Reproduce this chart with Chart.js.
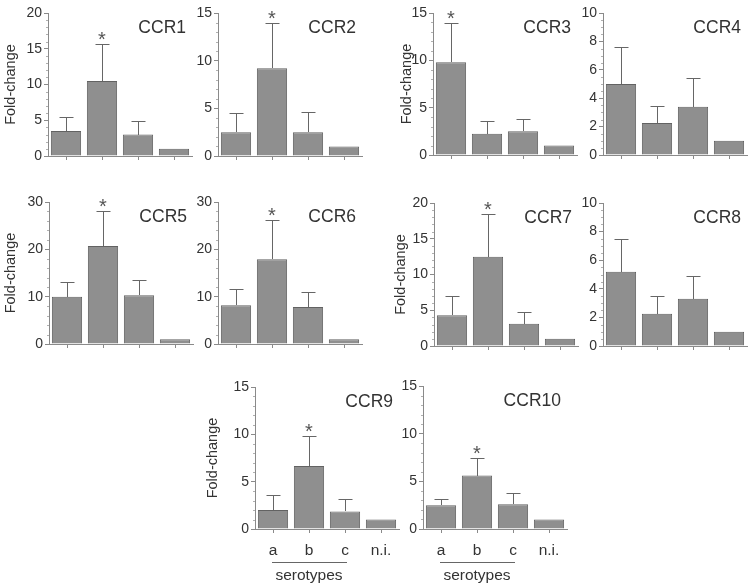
<!DOCTYPE html>
<html>
<head>
<meta charset="utf-8">
<script src="https://cdn.jsdelivr.net/npm/chart.js@4.4.1/dist/chart.umd.min.js"></script>
<style>
  html, body { margin: 0; padding: 0; background: #fff; }
  body { width: 750px; height: 585px; position: relative; overflow: hidden; }
  .panel { position: absolute; }
  .panel canvas { display: block; }
</style>
</head>
<body>
<script>
// ---------------- data ----------------
const categories = ['a', 'b', 'c', 'n.i.'];
const panelNames = ['CCR1', 'CCR2', 'CCR3', 'CCR4', 'CCR5', 'CCR6', 'CCR7', 'CCR8', 'CCR9', 'CCR10'];

const ccr1Mean  = [3.5, 10.5, 3.0, 1.0];   const ccr1Sd  = [1.9, 5.1, 1.9, 0];
const ccr2Mean  = [2.5, 9.2, 2.5, 1.0];    const ccr2Sd  = [2.0, 4.8, 2.1, 0];
const ccr3Mean  = [9.8, 2.25, 2.5, 1.0];   const ccr3Sd  = [4.1, 1.35, 1.3, 0];
const ccr4Mean  = [5.0, 2.25, 3.4, 1.0];   const ccr4Sd  = [2.6, 1.2, 2.0, 0];
const ccr5Mean  = [10.0, 20.7, 10.3, 1.0]; const ccr5Sd  = [3.1, 7.3, 3.15, 0];
const ccr6Mean  = [8.2, 17.9, 7.8, 1.0];   const ccr6Sd  = [3.4, 8.3, 3.1, 0];
const ccr7Mean  = [4.3, 12.5, 3.1, 1.0];   const ccr7Sd  = [2.7, 6.0, 1.7, 0];
const ccr8Mean  = [5.2, 2.25, 3.3, 1.0];   const ccr8Sd  = [2.3, 1.25, 1.6, 0];
const ccr9Mean  = [2.0, 6.65, 1.85, 1.0];  const ccr9Sd  = [1.6, 3.2, 1.3, 0];
const ccr10Mean = [2.5, 5.6, 2.6, 1.0];    const ccr10Sd = [0.6, 1.9, 1.15, 0];

const axisMax  = [20, 15, 15, 10, 30, 30, 20, 10, 15, 15];
const axisStep = [5, 5, 5, 2, 10, 10, 5, 2, 5, 5];
const starIndex = [1, 1, 0, -1, 1, 1, 1, -1, 1, 1];   // which bar carries the asterisk
const groupLabel = 'serotypes';
const yTitle = 'Fold-change';

const means = [ccr1Mean, ccr2Mean, ccr3Mean, ccr4Mean, ccr5Mean, ccr6Mean, ccr7Mean, ccr8Mean, ccr9Mean, ccr10Mean];
const sds   = [ccr1Sd, ccr2Sd, ccr3Sd, ccr4Sd, ccr5Sd, ccr6Sd, ccr7Sd, ccr8Sd, ccr9Sd, ccr10Sd];

// ---------------- layout (positions only) ----------------
const geom = [
  { axisX: 48,  top: 13,  bottom: 156, fold: 37,   xlab: false },
  { axisX: 218, top: 13,  bottom: 156, fold: null, xlab: false },
  { axisX: 433, top: 13,  bottom: 155, fold: 26,   xlab: false },
  { axisX: 603, top: 13,  bottom: 155, fold: null, xlab: false },
  { axisX: 49,  top: 202, bottom: 344, fold: 38,   xlab: false },
  { axisX: 218, top: 202, bottom: 344, fold: null, xlab: false },
  { axisX: 434, top: 203, bottom: 346, fold: 33,   xlab: false },
  { axisX: 603, top: 203, bottom: 346, fold: null, xlab: false },
  { axisX: 255, top: 387, bottom: 529, fold: 42,   xlab: true },
  { axisX: 423, top: 386, bottom: 529, fold: null, xlab: true }
];

const FONT = "'Liberation Sans', Arial, Helvetica, sans-serif";
Chart.defaults.font.family = FONT;
Chart.defaults.color = '#333';

const LEFT = 58, PADTOP = 20, PADRIGHT = 6, PLOTW = 144;
const AXIS_COLOR = '#8a8a8a';
const BAR_FILL = '#8f8f8f';
const BAR_EDGE = '#626262';
const ERR_COLOR = '#666';

function makeExtras(idx) {
  return {
    id: 'extras' + idx,
    afterDatasetsDraw(chart) {
      const { ctx, chartArea, scales: { x, y } } = chart;
      const m = means[idx], s = sds[idx];
      ctx.save();
      ctx.strokeStyle = ERR_COLOR;
      ctx.lineWidth = 1;
      m.forEach((v, i) => {
        if (!s[i]) return;
        const cx = Math.round(x.getPixelForValue(i)) + 0.5;
        const y0 = Math.round(y.getPixelForValue(v));
        const y1 = Math.round(y.getPixelForValue(v + s[i])) + 0.5;
        ctx.beginPath();
        ctx.moveTo(cx, y0);
        ctx.lineTo(cx, y1);
        ctx.moveTo(cx - 7, y1);
        ctx.lineTo(cx + 7, y1);
        ctx.stroke();
      });
      const step = axisStep[idx];
      const minor = step === 2 ? 0.5 : step / 5;
      const n = Math.round(axisMax[idx] / minor);
      ctx.strokeStyle = '#b0b0b0';
      ctx.beginPath();
      for (let k = 1; k < n; k++) {
        const v = k * minor;
        if (Math.abs(v / step - Math.round(v / step)) < 1e-6) continue;
        const py = Math.round(y.getPixelForValue(v)) + 0.5;
        ctx.moveTo(chartArea.left - 2, py);
        ctx.lineTo(chartArea.left, py);
      }
      ctx.stroke();
      ctx.restore();
    },
    afterDraw(chart) {
      const { ctx, chartArea, scales: { x, y } } = chart;
      const m = means[idx], s = sds[idx];
      ctx.save();
      ctx.fillStyle = '#333';
      ctx.font = '17.5px ' + FONT;
      ctx.textAlign = 'right';
      ctx.textBaseline = 'middle';
      ctx.fillText(panelNames[idx], chartArea.right - 6, chartArea.top + 15);
      const si = starIndex[idx];
      if (si >= 0) {
        ctx.font = '20px ' + FONT;
        ctx.fillStyle = '#555';
        ctx.textAlign = 'center';
        ctx.textBaseline = 'alphabetic';
        ctx.fillText('*', x.getPixelForValue(si), y.getPixelForValue(m[si] + s[si]) + 2);
      }
      if (geom[idx].xlab) {
        const xa = x.getPixelForValue(0), xc = x.getPixelForValue(2);
        const ly = Math.round(chartArea.bottom + 33) + 0.5;
        ctx.strokeStyle = '#666';
        ctx.lineWidth = 1;
        ctx.beginPath();
        ctx.moveTo(xa - 1, ly);
        ctx.lineTo(xc + 2, ly);
        ctx.stroke();
        ctx.fillStyle = '#333';
        ctx.font = '15.5px ' + FONT;
        ctx.textAlign = 'center';
        ctx.textBaseline = 'middle';
        ctx.fillText(groupLabel, (xa + xc) / 2, chartArea.bottom + 47);
      }
      ctx.restore();
    }
  };
}

geom.forEach((g, idx) => {
  const xh = g.xlab ? 56 : 8;
  const W = LEFT + PLOTW + PADRIGHT;
  const H = PADTOP + (g.bottom - g.top) + xh;
  const div = document.createElement('div');
  div.className = 'panel';
  div.style.left = (g.axisX - LEFT) + 'px';
  div.style.top = (g.top - PADTOP) + 'px';
  div.style.width = W + 'px';
  div.style.height = H + 'px';
  const cv = document.createElement('canvas');
  cv.width = W; cv.height = H;
  div.appendChild(cv);
  document.body.appendChild(div);

  new Chart(cv.getContext('2d'), {
    type: 'bar',
    data: {
      labels: categories,
      datasets: [{
        data: means[idx],
        backgroundColor: BAR_FILL,
        borderColor: BAR_EDGE,
        borderWidth: 1,
        barPercentage: 0.84,
        categoryPercentage: 1.0
      }]
    },
    options: {
      responsive: false,
      animation: false,
      devicePixelRatio: 1,
      layout: { padding: { top: PADTOP, right: PADRIGHT, left: 0, bottom: 0 } },
      plugins: { legend: { display: false }, tooltip: { enabled: false }, title: { display: false } },
      scales: {
        x: {
          type: 'category',
          offset: true,
          grid: { display: true, offset: false, drawOnChartArea: false, drawTicks: true, tickLength: 4, color: AXIS_COLOR, lineWidth: 1 },
          border: { display: true, color: AXIS_COLOR, width: 1 },
          ticks: { display: g.xlab, color: '#333', font: { size: 15.5, family: FONT }, padding: 8, maxRotation: 0, autoSkip: false },
          afterFit: (sc) => { sc.height = xh; sc.paddingLeft = 0; sc.paddingRight = 0; }
        },
        y: {
          min: 0,
          max: axisMax[idx],
          grid: { display: true, drawOnChartArea: false, drawTicks: true, tickLength: 4, color: AXIS_COLOR, lineWidth: 1 },
          border: { display: true, color: AXIS_COLOR, width: 1 },
          ticks: { stepSize: axisStep[idx], color: '#333', font: { size: 14, family: FONT }, padding: 2 },
          title: {
            display: g.fold !== null,
            text: yTitle,
            color: '#333',
            font: { size: 14.5, family: FONT },
            padding: { top: g.fold !== null ? (LEFT - g.fold - 8.7) : 0, bottom: 0 }
          },
          afterFit: (sc) => { sc.width = LEFT; sc.paddingTop = 0; sc.paddingBottom = 0; }
        }
      }
    },
    plugins: [makeExtras(idx)]
  });
});
</script>
</body>
</html>
